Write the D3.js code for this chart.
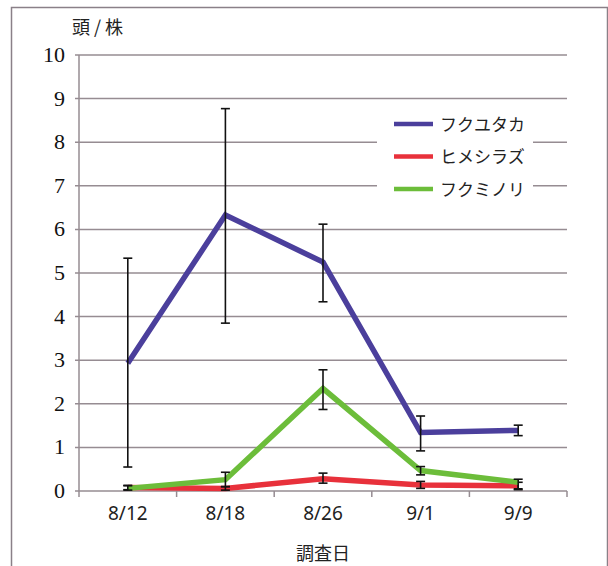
<!DOCTYPE html>
<html><head><meta charset="utf-8">
<script src="https://cdn.jsdelivr.net/npm/d3@7"></script>
<style>body{margin:0;background:#fff}</style>
</head><body>
<svg id="c" width="608" height="566"></svg>
<script>
const categories = ["8/12","8/18","8/26","9/1","9/9"];
const yTicks = [0,1,2,3,4,5,6,7,8,9,10];
const seriesNames = ["フクユタカ","ヒメシラズ","フクミノリ"];
const fukuyutaka     = [2.93, 6.33, 5.25, 1.34, 1.39];
const fukuyutakaLow  = [0.55, 3.85, 4.34, 0.92, 1.27];
const fukuyutakaHigh = [5.34, 8.77, 6.12, 1.72, 1.51];
const himeshirazu     = [0.08, 0.06, 0.28, 0.14, 0.12];
const himeshirazuLow  = [0.03, 0.02, 0.18, 0.06, 0.03];
const himeshirazuHigh = [0.13, 0.10, 0.41, 0.22, 0.20];
const fukuminori     = [0.06, 0.26, 2.35, 0.47, 0.20];
const fukuminoriLow  = [0.02, 0.10, 1.87, 0.37, 0.05];
const fukuminoriHigh = [0.12, 0.43, 2.78, 0.56, 0.27];
const colors = ["#4b3f9c","#e8313b","#6cbd3a"];

const series = [
  {name: seriesNames[0], v: fukuyutaka, lo: fukuyutakaLow, hi: fukuyutakaHigh, c: colors[0]},
  {name: seriesNames[1], v: himeshirazu, lo: himeshirazuLow, hi: himeshirazuHigh, c: colors[1]},
  {name: seriesNames[2], v: fukuminori, lo: fukuminoriLow, hi: fukuminoriHigh, c: colors[2]}
];

const svg = d3.select("#c");
const L = 79, R = 567, T = 55, B = 491;
const x = d3.scaleBand().domain(categories).range([L, R]);
const y = d3.scaleLinear().domain([0, 10]).range([B, T]);
const grid = "#968c92";

svg.append("rect").attr("x", 11.5).attr("y", 7.5).attr("width", 596).attr("height", 600)
  .attr("fill", "none").attr("stroke", "#8a8088").attr("stroke-width", 1.5);

svg.append("g").selectAll("line").data(yTicks).join("line")
  .attr("x1", L - 4).attr("x2", R).attr("y1", d => y(d)).attr("y2", d => y(d))
  .attr("stroke", grid).attr("stroke-width", 1.5);

svg.append("line").attr("x1", L).attr("x2", L).attr("y1", T).attr("y2", B)
  .attr("stroke", grid).attr("stroke-width", 1.5);

const bounds = categories.map(c => x(c)).concat([R]);
svg.append("g").selectAll("line").data(bounds).join("line")
  .attr("x1", d => d).attr("x2", d => d).attr("y1", B).attr("y2", B + 6)
  .attr("stroke", grid).attr("stroke-width", 1.5);

svg.append("g").selectAll("text").data(yTicks).join("text")
  .attr("x", 65).attr("y", d => y(d) + 7).attr("text-anchor", "end")
  .style("font-family", "'Liberation Serif', 'Times New Roman', serif")
  .style("font-size", "22px")
  .attr("fill", "#111").text(d => d);

svg.append("g").selectAll("text").data(categories).join("text")
  .attr("x", d => x(d) + x.bandwidth() / 2).attr("y", 520).attr("text-anchor", "middle")
  .style("font-family", "'Noto Sans', 'Noto Sans CJK JP', sans-serif").style("font-size", "19px")
  .attr("fill", "#222").text(d => d);

svg.append("text").attr("x", 72).attr("y", 34)
  .style("font-family", "'Noto Sans CJK JP', sans-serif").style("font-size", "18px")
  .attr("fill", "#222").text("頭 / 株");
svg.append("text").attr("x", 323).attr("y", 560).attr("text-anchor", "middle")
  .style("font-family", "'Noto Sans CJK JP', sans-serif").style("font-size", "18px")
  .attr("fill", "#222").text("調査日");

const cx = d => x(d) + x.bandwidth() / 2;
const line = d3.line().x(d => cx(d.c)).y(d => y(d.v));

series.forEach(s => {
  const pts = categories.map((c, i) => ({c, v: s.v[i], lo: s.lo[i], hi: s.hi[i]}));
  svg.append("path").datum(pts).attr("d", line).attr("fill", "none")
    .attr("stroke", s.c).attr("stroke-width", 5.5).attr("stroke-linejoin", "miter");
  const eb = svg.append("g").attr("stroke", "#111").attr("stroke-width", 1.6);
  eb.selectAll("line.v").data(pts).join("line").attr("class", "v")
    .attr("x1", d => cx(d.c)).attr("x2", d => cx(d.c)).attr("y1", d => y(d.lo)).attr("y2", d => y(d.hi));
  eb.selectAll("line.h").data(pts).join("line").attr("class", "h")
    .attr("x1", d => cx(d.c) - 4.5).attr("x2", d => cx(d.c) + 4.5).attr("y1", d => y(d.hi)).attr("y2", d => y(d.hi));
  eb.selectAll("line.l").data(pts).join("line").attr("class", "l")
    .attr("x1", d => cx(d.c) - 4.5).attr("x2", d => cx(d.c) + 4.5).attr("y1", d => y(d.lo)).attr("y2", d => y(d.lo));
});

const lg = svg.append("g");
lg.append("rect").attr("x", 377).attr("y", 104).attr("width", 156).attr("height", 100).attr("fill", "#fff");
series.forEach((s, i) => {
  const yy = 124 + i * 32.5;
  lg.append("line").attr("x1", 394).attr("x2", 433).attr("y1", yy).attr("y2", yy)
    .attr("stroke", s.c).attr("stroke-width", 4.5);
  lg.append("text").attr("x", 440).attr("y", yy + 6.5)
    .style("font-family", "'Noto Sans CJK JP', sans-serif").style("font-size", "17px")
    .attr("fill", "#222").text(s.name);
});
</script>
</body></html>
